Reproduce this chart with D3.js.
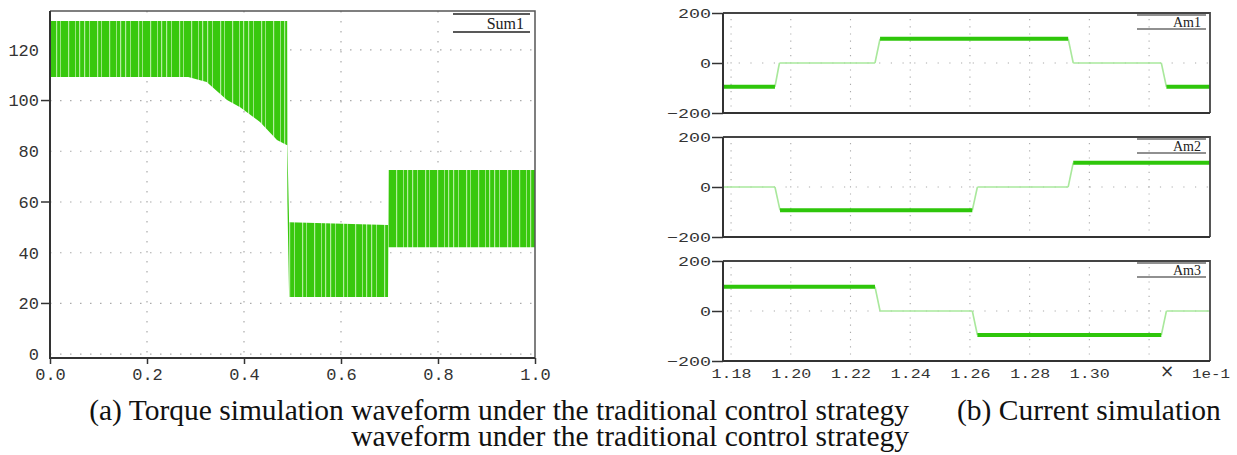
<!DOCTYPE html>
<html>
<head>
<meta charset="utf-8">
<script src="https://cdn.jsdelivr.net/npm/d3@7"></script>
<style>
body { margin: 0; background: #fff; }
svg { display: block; }
.tick text { font-family: "Liberation Mono", monospace; fill: #333; }
.caption { font-family: "Liberation Serif", "Times New Roman", serif; font-size: 29.5px; fill: #111; }
.legend { font-family: "Liberation Serif", serif; fill: #222; }
</style>
</head>
<body>
<svg id="chart" width="1237" height="455"></svg>
<script>
// (a) torque: envelope of the switching ripple
const torqueTime = [0, 0.285, 0.323, 0.365, 0.392, 0.433, 0.468, 0.489, 0.4895, 0.493, 0.697, 0.698, 1.0];
const torqueHigh = [131.4, 131.4, 131.4, 131.4, 131.4, 131.4, 131.4, 131.4, 82, 52, 50.9, 72.6, 72.6];
const torqueLow  = [109.3, 109.3, 107.3, 100.2, 97.4, 91.5, 84.4, 82.4, 60, 22.5, 22.5, 42.2, 42.2];
const torqueXTicks = [0, 0.2, 0.4, 0.6, 0.8, 1.0];
const torqueYTicks = [0, 20, 40, 60, 80, 100, 120];
const torqueYMarks = [20, 60, 100];

// (b) phase currents, time in units of 1e-1 s
const am1Time  = [1.1773, 1.1947, 1.1962, 1.2282, 1.2299, 1.2929, 1.2946, 1.3241, 1.3258, 1.3404];
const am1Value = [-95, -95, 0, 0, 97, 97, 0, 0, -95, -95];
const am2Time  = [1.1773, 1.1947, 1.1964, 1.2608, 1.2625, 1.2929, 1.2946, 1.3404];
const am2Value = [0, 0, -93, -93, 0, 0, 97, 97];
const am3Time  = [1.1773, 1.2282, 1.2299, 1.2608, 1.2625, 1.3241, 1.3258, 1.3404];
const am3Value = [97, 97, 0, 0, -96, -96, 0, 0];
const phaseNames = ["Am1", "Am2", "Am3"];
const currentXTicks = [1.18, 1.20, 1.22, 1.24, 1.26, 1.28, 1.30];
const currentXGrid = [1.18, 1.20, 1.22, 1.24, 1.26, 1.28, 1.30, 1.32];
const currentYTicks = [-200, 0, 200];

const captionA = "(a) Torque simulation waveform under the traditional control strategy";
const captionB = "(b) Current simulation";
const captionA2 = "waveform under the traditional control strategy";

const svg = d3.select("#chart");
const green = "#38c80e";

// ---------- left panel ----------
const L = { left: 50, right: 535, top: 11, bottom: 358 };
const xT = d3.scaleLinear().domain([0, 1]).range([L.left, L.right]);
const yT = d3.scaleLinear().domain([-1.5, 135.3]).range([L.bottom, L.top]);

const defs = svg.append("defs");
const pat = defs.append("pattern")
    .attr("id", "ripple")
    .attr("patternUnits", "userSpaceOnUse")
    .attr("width", 41).attr("height", 400);
pat.append("rect").attr("width", 41).attr("height", 400).attr("fill", green);
[2, 7, 15, 19, 27, 34, 38].forEach((px, i) => {
    pat.append("rect").attr("x", px).attr("y", 0)
        .attr("width", i % 2 ? 0.8 : 1.2).attr("height", 400)
        .attr("fill", "#c9f3b8").attr("opacity", 0.85);
});

const left = svg.append("g");
left.selectAll(".hgrid").data(torqueYTicks).enter().append("line")
    .attr("x1", L.left).attr("x2", L.right)
    .attr("y1", d => yT(d)).attr("y2", d => yT(d))
    .attr("stroke", "#aaa").attr("stroke-width", 1.2).attr("stroke-dasharray", "1.5,8.5");
left.selectAll(".vgrid").data(torqueXTicks.slice(1, -1)).enter().append("line")
    .attr("x1", d => xT(d)).attr("x2", d => xT(d))
    .attr("y1", L.top).attr("y2", L.bottom)
    .attr("stroke", "#aaa").attr("stroke-width", 1.2).attr("stroke-dasharray", "1.5,8.5");

const torqueData = torqueTime.map((t, i) => ({ t: t, hi: torqueHigh[i], lo: torqueLow[i] }));
left.append("path")
    .datum(torqueData)
    .attr("d", d3.area().x(d => xT(d.t)).y0(d => yT(d.lo)).y1(d => yT(d.hi)))
    .attr("fill", "url(#ripple)");

// frame
left.append("path")
    .attr("d", `M${L.left},${L.top}H${L.right}V${L.bottom}`)
    .attr("fill", "none").attr("stroke", "#555").attr("stroke-width", 1.5);

const axB = left.append("g").attr("transform", `translate(0,${L.bottom})`)
    .call(d3.axisBottom(xT).tickValues(torqueXTicks).tickSize(6).tickFormat(d3.format(".1f")));
axB.select(".domain").remove();
axB.selectAll(".tick line").attr("stroke", "#333").attr("stroke-width", 1.5);
axB.selectAll(".tick text").attr("y", 22).attr("dy", 0).style("font-size", "17px");

const axL = left.append("g").attr("transform", `translate(${L.left},0)`)
    .call(d3.axisLeft(yT).tickValues(torqueYTicks).tickSize(0).tickPadding(11).tickFormat(d3.format("d")));
axL.select(".domain").remove();
axL.selectAll(".tick text").style("font-size", "17px");
left.selectAll(".ymark").data(torqueYMarks).enter().append("line")
    .attr("x1", L.left - 9).attr("x2", L.left)
    .attr("y1", d => yT(d)).attr("y2", d => yT(d))
    .attr("stroke", "#333").attr("stroke-width", 1.5);

left.append("path")
    .attr("d", `M${L.left},${L.top}V${L.bottom}H${L.right}`)
    .attr("fill", "none").attr("stroke", "#333").attr("stroke-width", 2);

// legend
left.append("line").attr("x1", 453).attr("x2", 530).attr("y1", 14).attr("y2", 14).attr("stroke", "#222").attr("stroke-width", 1.3);
left.append("line").attr("x1", 453).attr("x2", 530).attr("y1", 32).attr("y2", 32).attr("stroke", "#222").attr("stroke-width", 1.3);
left.append("text").attr("class", "legend").attr("x", 524).attr("y", 29)
    .attr("text-anchor", "end").style("font-size", "16px").text("Sum1");

// ---------- right panels ----------
const R = { left: 723, right: 1210, top: 13, height: 100, step: 124 };
const xC = d3.scaleLinear().domain([1.1773, 1.3404]).range([R.left, R.right]);
const phases = [
    { time: am1Time, value: am1Value },
    { time: am2Time, value: am2Value },
    { time: am3Time, value: am3Value }
];

phases.forEach((ph, k) => {
    const top = R.top + k * R.step;
    const bottom = top + R.height;
    const yC = d3.scaleLinear().domain([-200, 200]).range([bottom, top]);
    const g = svg.append("g");

    g.selectAll(".vgrid").data(currentXGrid).enter().append("line")
        .attr("x1", d => xC(d)).attr("x2", d => xC(d))
        .attr("y1", top + 6).attr("y2", bottom)
        .attr("stroke", "#aaa").attr("stroke-width", 1.1).attr("stroke-dasharray", "1.2,6");
    g.append("line")
        .attr("x1", R.left + 4).attr("x2", R.right)
        .attr("y1", yC(0)).attr("y2", yC(0))
        .attr("stroke", "#aaa").attr("stroke-width", 1.1).attr("stroke-dasharray", "1.2,10.5");

    const segs = d3.pairs(ph.time.map((t, i) => ({ t: t, v: ph.value[i] })));
    const thin = segs.filter(s => !(s[0].v !== 0 && s[0].v === s[1].v));
    const thick = segs.filter(s => s[0].v !== 0 && s[0].v === s[1].v);
    g.selectAll(".thin").data(thin).enter().append("line")
        .attr("x1", s => xC(s[0].t)).attr("x2", s => xC(s[1].t))
        .attr("y1", s => yC(s[0].v)).attr("y2", s => yC(s[1].v))
        .attr("stroke", "#a9e89c").attr("stroke-width", 1.6);
    g.selectAll(".thick").data(thick).enter().append("line")
        .attr("x1", s => xC(s[0].t)).attr("x2", s => xC(s[1].t))
        .attr("y1", s => yC(s[0].v)).attr("y2", s => yC(s[1].v))
        .attr("stroke", "#2ec60a").attr("stroke-width", 4.2);

    g.append("path")
        .attr("d", `M${R.left},${top}H${R.right}V${bottom}`)
        .attr("fill", "none").attr("stroke", "#444").attr("stroke-width", 1.8);

    const ay = g.append("g").attr("transform", `translate(${R.left},0)`)
        .call(d3.axisLeft(yC).tickValues(currentYTicks).tickSize(11).tickPadding(1).tickFormat(d3.format("d")));
    ay.select(".domain").remove();
    ay.selectAll(".tick line").attr("stroke", "#333").attr("stroke-width", 1.5);
    ay.selectAll(".tick text").style("font-size", "13px")
        .attr("textLength", function () { return this.textContent.length * 11; })
        .attr("lengthAdjust", "spacingAndGlyphs");

    if (k === 2) {
        const ax = g.append("g").attr("transform", `translate(0,${bottom})`)
            .call(d3.axisBottom(xC).tickValues(currentXTicks).tickSize(0).tickFormat(d3.format(".2f")));
        ax.select(".domain").remove();
        ax.selectAll(".tick text").attr("y", 17).attr("dy", 0).style("font-size", "13px")
            .attr("textLength", 40).attr("lengthAdjust", "spacingAndGlyphs");
        g.append("text").attr("x", 1167).attr("y", 377).attr("text-anchor", "middle")
            .style("font-family", "DejaVu Sans").style("font-size", "17px").attr("fill", "#333").text("×");
        g.append("text").attr("x", 1192).attr("y", bottom + 17)
            .style("font-family", "Liberation Mono").style("font-size", "13px").attr("fill", "#333")
            .attr("textLength", 38).attr("lengthAdjust", "spacingAndGlyphs").text("1e-1");
    }

    g.append("path")
        .attr("d", `M${R.left},${top}V${bottom}H${R.right}`)
        .attr("fill", "none").attr("stroke", "#333").attr("stroke-width", 2);

    g.append("line").attr("x1", 1137).attr("x2", 1206).attr("y1", top + 2).attr("y2", top + 2).attr("stroke", "#222").attr("stroke-width", 1.2);
    g.append("line").attr("x1", 1137).attr("x2", 1206).attr("y1", top + 16).attr("y2", top + 16).attr("stroke", "#222").attr("stroke-width", 1.2);
    g.append("text").attr("class", "legend").attr("x", 1201).attr("y", top + 14)
        .attr("text-anchor", "end").style("font-size", "14px").text(phaseNames[k]);
});

// ---------- captions ----------
svg.append("text").attr("class", "caption").attr("x", 909).attr("y", 420).attr("text-anchor", "end").text(captionA);
svg.append("text").attr("class", "caption").attr("x", 957).attr("y", 420).text(captionB);
svg.append("text").attr("class", "caption").attr("x", 909).attr("y", 446).attr("text-anchor", "end").text(captionA2);
</script>
</body>
</html>
